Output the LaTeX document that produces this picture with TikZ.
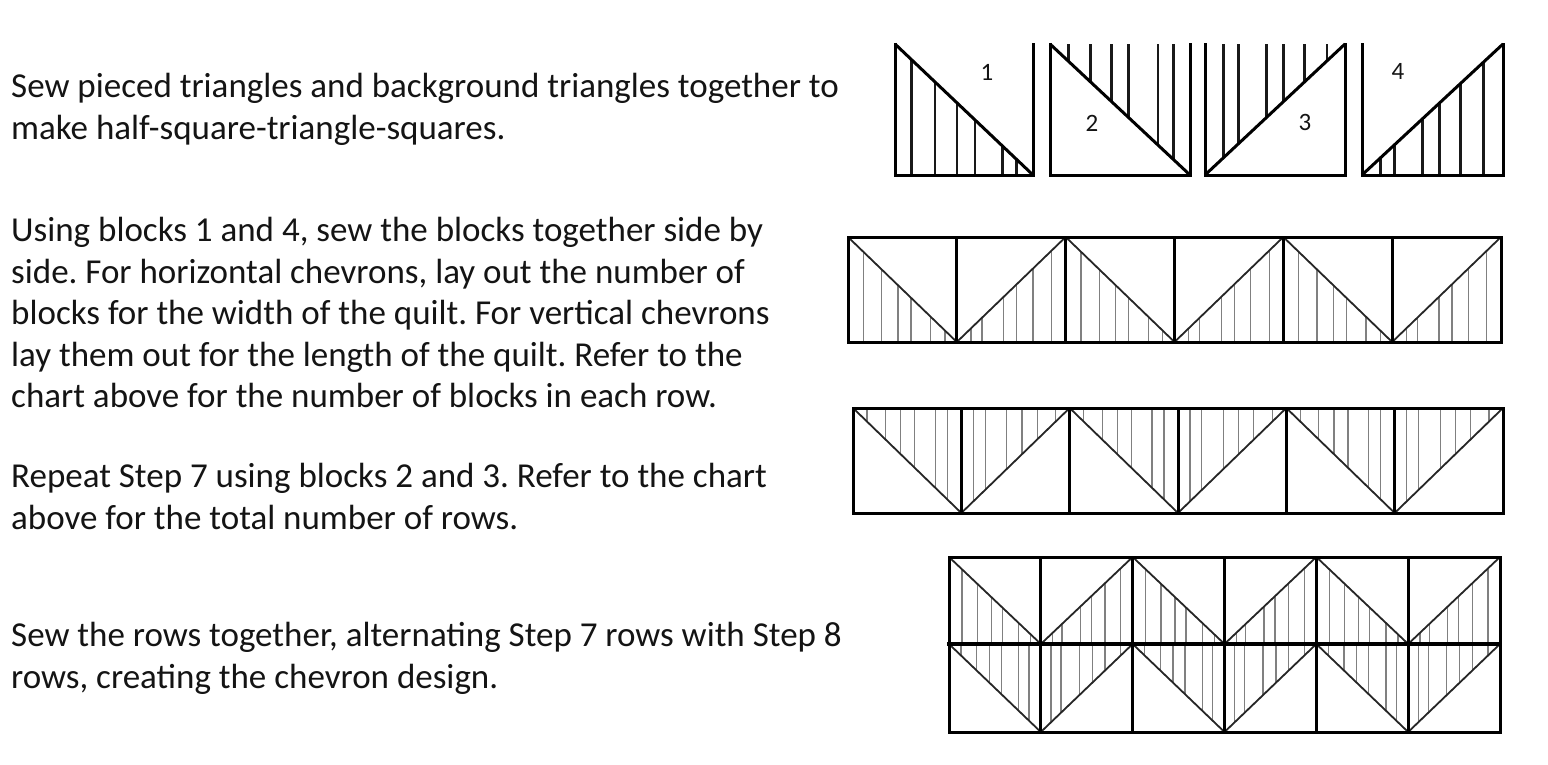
\documentclass[tikz,border=0pt]{standalone}
\usepackage{fontspec}
\setmainfont{Carlito}
\usepackage{xcolor}
\usetikzlibrary{calc}
\definecolor{inktext}{HTML}{141414}
\frenchspacing

% one half-square-triangle cell: [options]{type}{x}{y}{w}{h}{hatch positions}
% type 1/2: diagonal top-left to bottom-right, hatched below/above
% type 3/4: diagonal bottom-left to top-right, hatched above/below
\newcommand{\quiltcell}[7][]{%
  \begin{scope}[shift={(#3,#4)},xscale=#5,yscale=#6,#1]
    \edef\hlist{#7}%
    \ifcase#2\or
      \foreach \f in \hlist {\draw[hatch] (\f,\f) -- (\f,1);}
      \draw[diag] (0,0) -- (1,1);
    \or
      \foreach \f in \hlist {\draw[hatch] (\f,0) -- (\f,\f);}
      \draw[diag] (0,0) -- (1,1);
    \or
      \foreach \f in \hlist {\draw[hatch] (\f,0) -- (\f,1-\f);}
      \draw[diag] (0,1) -- (1,0);
    \or
      \foreach \f in \hlist {\draw[hatch] (\f,1-\f) -- (\f,1);}
      \draw[diag] (0,1) -- (1,0);
    \fi
  \end{scope}}
\newcommand{\fracA}{0.14,0.31,0.46,0.58,0.76,0.89}
\newcommand{\fracB}{0.13,0.30,0.44,0.57,0.76,0.87}
\newcommand{\fracC}{0.11,0.22,0.42,0.56,0.70,0.87}
\newcommand{\fracD}{0.13,0.23,0.43,0.55,0.70,0.87}

\begin{document}
\begin{tikzpicture}[x=1pt,y=-1pt,
para/.style={anchor=north west,inner sep=0pt,align=left,text=inktext,
  font=\fontsize{35}{41.5}\selectfont},
num/.style={inner sep=0pt,text=inktext,font=\fontsize{25}{28}\selectfont},
frame/.style={line width=3pt,line cap=rect,line join=miter},
diag/.style={line width=1.8pt,black!85},
hatch/.style={line width=1.3pt,black!50},
bigblock/.style={diag/.style={line width=3pt},hatch/.style={line width=2.6pt,black!90}}]
\fill[white] (0,0) rectangle (1548,764);
\useasboundingbox (0,0) rectangle (1548,764);

% instructions
\node[para] (sew) at (11,73) {Sew pieced triangles and background triangles together to\\make half-square-triangle-squares.};
\node[para] (step7) at (11,217) {Using blocks 1 and 4, sew the blocks together side by\\side. For horizontal chevrons, lay out the number of\\blocks for the width of the quilt. For vertical chevrons\\lay them out for the length of the quilt. Refer to the\\chart above for the number of blocks in each row.};
\node[para] (step8) at (11,463) {Repeat Step 7 using blocks 2 and 3. Refer to the chart\\above for the total number of rows.};
\node[para] (step9) at (11,622) {Sew the rows together, alternating Step 7 rows with Step 8\\rows, creating the chevron design.};

% the four blocks
\quiltcell[bigblock]{1}{895}{44}{138}{131}{0.12,0.29,0.45,0.58,0.78,0.88}
\quiltcell[bigblock]{2}{1050}{44}{140}{131}{0.13,0.29,0.44,0.56,0.77,0.88}
\quiltcell[bigblock]{3}{1205}{44}{140}{131}{0.13,0.24,0.44,0.56,0.71,0.87}
\quiltcell[bigblock]{4}{1362}{44}{141}{131}{0.13,0.23,0.43,0.55,0.70,0.86}
\draw[frame] (895,44) -- (895,175) -- (1033,175) -- (1033,44);
\draw[frame] (1050,44) -- (1050,175) -- (1190,175) -- (1190,44);
\draw[frame] (1205,44) -- (1205,175) -- (1345,175) -- (1345,44);
\draw[frame] (1362,44) -- (1362,175) -- (1503,175) -- (1503,44);
\node[num] (n1) at (987,72) {1};
\node[num] (n2) at (1092,123) {2};
\node[num] (n3) at (1305,122) {3};
\node[num] (n4) at (1398,71) {4};

% step 7 row: blocks 1 and 4
\foreach \i in {0,...,5} {
  \pgfmathsetmacro\cx{848+\i*108.83}
  \ifodd\i \quiltcell{4}{\cx}{237}{108.83}{105}{\fracD}
  \else \quiltcell{1}{\cx}{237}{108.83}{105}{\fracA} \fi
}
\draw[frame] (848,237) rectangle (1501,342);
\foreach \i in {1,...,5} \draw[frame] (848+\i*108.83,237) -- (848+\i*108.83,342);

% step 8 row: blocks 2 and 3
\foreach \i in {0,...,5} {
  \pgfmathsetmacro\cx{853+\i*108.33}
  \ifodd\i \quiltcell{3}{\cx}{408}{108.33}{105}{\fracC}
  \else \quiltcell{2}{\cx}{408}{108.33}{105}{\fracB} \fi
}
\draw[frame] (853,408) rectangle (1503,513);
\foreach \i in {1,...,5} \draw[frame] (853+\i*108.33,408) -- (853+\i*108.33,513);

% rows sewn together
\foreach \i in {0,...,5} {
  \pgfmathsetmacro\cx{949+\i*91.83}
  \ifodd\i
    \quiltcell{4}{\cx}{557}{91.83}{87}{\fracD}
    \quiltcell{3}{\cx}{644}{91.83}{88}{\fracC}
  \else
    \quiltcell{1}{\cx}{557}{91.83}{87}{\fracA}
    \quiltcell{2}{\cx}{644}{91.83}{88}{\fracB}
  \fi
}
\draw[frame] (949,557) rectangle (1500,732);
\draw[frame,line width=3.5pt] (949,644) -- (1500,644);
\foreach \i in {1,...,5} \draw[frame] (949+\i*91.83,557) -- (949+\i*91.83,732);
\end{tikzpicture}
\end{document}
